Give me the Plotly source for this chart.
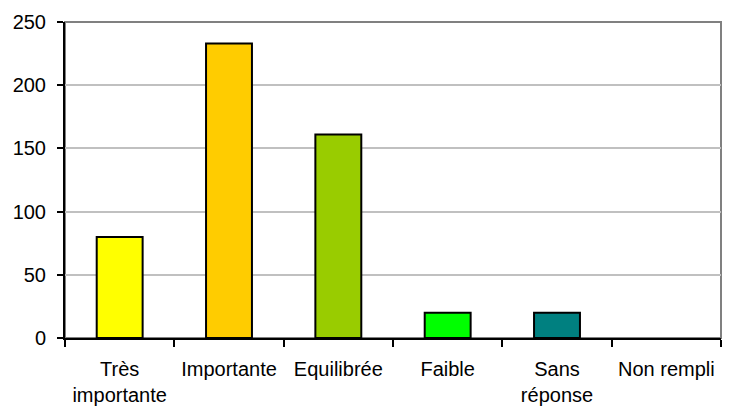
import plotly.graph_objects as go

# Data
categories = ['Très<br>importante', 'Importante', 'Equilibrée', 'Faible', 'Sans<br>réponse', 'Non rempli']
counts = [80, 233, 161, 20, 20, 0]
colors = ['#FFFF00', '#FFCC00', '#99CC00', '#00FF00', '#008080', '#C0C0C0']
y_ticks = [0, 50, 100, 150, 200, 250]

fig = go.Figure()
fig.add_trace(go.Bar(x=categories, y=counts,
                     marker=dict(color=colors,
                                 line=dict(color='black', width=[2, 2, 2, 2, 2, 0])),
                     width=0.42))

font = dict(family='Liberation Sans, Arial, sans-serif', size=20, color='black')

# page body adds an 8px offset, margins compensate for it
fig.update_layout(width=734, height=412,
                  margin=dict(l=57, r=21, t=14, b=82),
                  paper_bgcolor='white', plot_bgcolor='white',
                  showlegend=False, font=font,
                  shapes=[dict(type='rect', xref='paper', yref='paper',
                               x0=0, x1=1, y0=0, y1=1,
                               line=dict(color='#808080', width=2), layer='below')])

fig.update_xaxes(showline=True, linecolor='black', linewidth=2,
                 ticks='outside', tickson='boundaries', ticklen=7,
                 tickcolor='black', tickwidth=2, showgrid=False,
                 tickfont=font, automargin=False, ticklabelstandoff=12)
fig.update_yaxes(range=[0, 250], tickvals=y_ticks,
                 showline=True, linecolor='black', linewidth=2,
                 ticks='outside', ticklen=6, tickcolor='black', tickwidth=2,
                 showgrid=True, gridcolor='#C0C0C0', gridwidth=1.5,
                 zeroline=False, tickfont=font, automargin=False,
                 ticklabelstandoff=7)

fig.write_html("out.html")
